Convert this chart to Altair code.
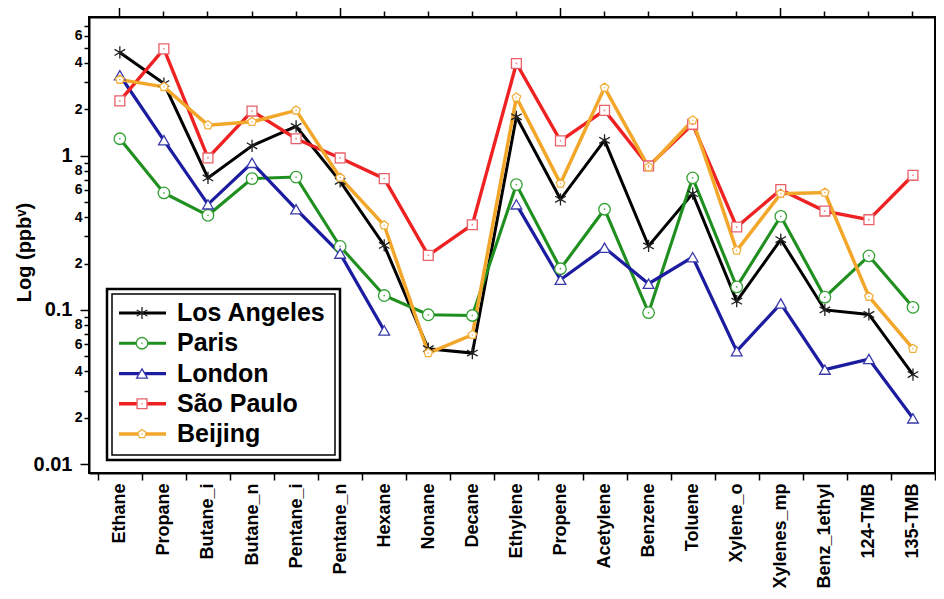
import altair as alt
import pandas as pd

compounds = ["Ethane", "Propane", "Butane_i", "Butane_n", "Pentane_i", "Pentane_n",
             "Hexane", "Nonane", "Decane", "Ethylene", "Propene", "Acetylene",
             "Benzene", "Toluene", "Xylene_o", "Xylenes_mp", "Benz_1ethyl",
             "124-TMB", "135-TMB"]
cities = ["Los Angeles", "Paris", "London", "São Paulo", "Beijing"]

los_angeles = [4.68, 2.94, 0.718, 1.16, 1.55, 0.683, 0.262, 0.056, 0.0525, 1.79,
               0.522, 1.26, 0.260, 0.568, 0.114, 0.286, 0.100, 0.0935, 0.0381]
paris = [1.29, 0.574, 0.411, 0.711, 0.728, 0.258, 0.124, 0.093, 0.092, 0.650,
         0.185, 0.45, 0.096, 0.718, 0.141, 0.405, 0.121, 0.224, 0.104]
london = [3.33, 1.26, 0.484, 0.90, 0.45, 0.232, 0.0736, None, None, 0.484,
          0.157, 0.253, 0.148, 0.220, 0.054, 0.110, 0.041, 0.048, 0.0198]
sao_paulo = [2.27, 4.94, 0.968, 1.95, 1.29, 0.968, 0.711, 0.226, 0.357, 3.97,
             1.25, 1.97, 0.859, 1.60, 0.345, 0.603, 0.438, 0.385, 0.747]
beijing = [3.12, 2.80, 1.58, 1.66, 1.97, 0.722, 0.354, 0.0525, 0.069, 2.39,
           0.660, 2.77, 0.846, 1.70, 0.243, 0.568, 0.577, 0.122, 0.056]

line_colors = ["#000000", "#1f8f1f", "#1c1ca0", "#ee2222", "#f2a72a"]
marker_colors = ["#222222", "#33a033", "#3a3aaa", "#e8606a", "#f0b040"]
line_widths = [3, 3.5, 3.5, 3.5, 2.5]
shapes = ["M0,-1L0,1M-0.866,-0.5L0.866,0.5M-0.866,0.5L0.866,-0.5",
          "circle", "triangle-up", "square",
          "M0,-1L0.951,-0.309L0.588,0.809L-0.588,0.809L-0.951,-0.309Z"]
sizes = [150, 80, 180, 90, 100]
dotted = ["Paris", "São Paulo", "Beijing"]

series = dict(zip(cities, [los_angeles, paris, london, sao_paulo, beijing]))
rows = []
for city, vals in series.items():
    seg = 0
    for comp, v in zip(compounds, vals):
        if v is None:
            seg += 1
            continue
        rows.append({"city": city, "compound": comp, "value": v, "seg": f"{city}-{seg}"})
df = pd.DataFrame(rows)
legend_df = pd.DataFrame({"city": cities})

FONT = "Liberation Sans"

xscale = alt.Scale(type="band", domain=compounds, paddingInner=0, paddingOuter=0.1, align=1)
yscale = alt.Scale(type="log", domain=[0.00875, 7.95], nice=False)

ytick_vals = [round(m * 10 ** e, 6) for e in (-2, -1, 0) for m in range(1, 10) if m * 10 ** e < 7.95]

mant = "round(datum.value / pow(10, floor(log(datum.value)/LN10 + 1e-6)))"
is_decade = "abs(log(datum.value)/LN10 - round(log(datum.value)/LN10)) < 1e-6"
label_expr = (f"{is_decade} ? (datum.value >= 0.999 ? '1' : datum.value >= 0.0999 ? '0.1' : '0.01') : "
              f"(({mant}) == 2 || ({mant}) == 4 || ({mant}) == 6 || ({mant}) == 8 ? format({mant}, 'd') : '')")

y_axis = alt.Axis(
    values=ytick_vals, labelExpr=label_expr, labelOverlap=False,
    labelFontSize={"condition": {"test": is_decade, "value": 20}, "value": 14},
    tickSize={"condition": {"test": is_decade, "value": 9}, "value": 5},
    labelPadding={"condition": {"test": is_decade, "value": 8}, "value": 2},
    labelFont=FONT, labelFontWeight="bold",
    title="Log (ppbᵛ)", titleFont=FONT, titleFontSize=20, titleFontWeight="bold",
    titleAngle=270, titleX=-65, titleY=235, titleAlign="center", titleBaseline="middle",
)

bottom_axis = alt.Axis(orient="bottom", tickBand="extent", tickSize=7, labelAngle=270,
                       labelAlign="right", labelBaseline="middle", labelPadding=3,
                       labelOverlap=False,
                       labelFont=FONT, labelFontSize=18, labelFontWeight="bold", title=None)

major = [compounds[0], compounds[5], compounds[10], compounds[15]]
major_test = "indexof(" + str(major) + ", datum.value) >= 0"
top_axis = alt.Axis(orient="top", labels=False, title=None,
                    tickSize={"condition": {"test": major_test, "value": 10}, "value": 6})

color_enc = alt.Color("city:N", scale=alt.Scale(domain=cities, range=line_colors), legend=None)
stroke_enc = alt.Stroke("city:N", scale=alt.Scale(domain=cities, range=marker_colors), legend=None)
fill_enc = alt.Fill("city:N", scale=alt.Scale(domain=cities, range=marker_colors), legend=None)
shape_enc = alt.Shape("city:N", scale=alt.Scale(domain=cities, range=shapes), legend=None)
size_enc = alt.Size("city:N", scale=alt.Scale(domain=cities, range=sizes), legend=None)
sw_enc = alt.StrokeWidth("city:N", scale=alt.Scale(domain=cities, range=line_widths), legend=None)

lines = alt.Chart(df).mark_line().encode(
    x=alt.X("compound:N", scale=xscale, sort=compounds, bandPosition=0.5, axis=bottom_axis),
    y=alt.Y("value:Q", scale=yscale, axis=y_axis),
    color=color_enc, strokeWidth=sw_enc, detail="seg:N",
)

points = alt.Chart(df).mark_point(fill="white", fillOpacity=1, strokeWidth=1.3, opacity=1).encode(
    x=alt.X("compound:N", scale=xscale, sort=compounds, bandPosition=0.5, axis=top_axis),
    y=alt.Y("value:Q", scale=yscale, axis=None),
    shape=shape_enc, size=size_enc, stroke=stroke_enc,
)

dots = alt.Chart(df).transform_filter(
    alt.FieldOneOfPredicate(field="city", oneOf=dotted)
).mark_point(filled=True, size=3, opacity=0.8).encode(
    x=alt.X("compound:N", scale=xscale, sort=compounds, bandPosition=0.5, axis=None),
    y=alt.Y("value:Q", scale=yscale, axis=None),
    fill=fill_enc,
)

one = alt.Data(values=[{}])
box_outer = alt.Chart(one).mark_rect(fill="white", stroke="black", strokeWidth=2.5).encode(
    x=alt.value(18), x2=alt.value(251), y=alt.value(272), y2=alt.value(443))
box_inner = alt.Chart(one).mark_rect(fillOpacity=0, stroke="black", strokeWidth=1.5).encode(
    x=alt.value(23), x2=alt.value(246), y=alt.value(277), y2=alt.value(438))

ly = alt.Y("city:N", sort=cities,
           scale=alt.Scale(type="point", domain=cities, range=[296, 417], padding=0), axis=None)

leg_rules = alt.Chart(legend_df).mark_rule().encode(
    x=alt.value(30), x2=alt.value(77), y=ly, color=color_enc, strokeWidth=sw_enc)
leg_points = alt.Chart(legend_df).mark_point(fill="white", fillOpacity=1, strokeWidth=1.3, opacity=1).encode(
    x=alt.value(53), y=ly, shape=shape_enc, size=size_enc, stroke=stroke_enc)
leg_dots = alt.Chart(legend_df).transform_filter(
    alt.FieldOneOfPredicate(field="city", oneOf=dotted)
).mark_point(filled=True, size=3, opacity=0.8).encode(x=alt.value(53), y=ly, fill=fill_enc)
leg_text = alt.Chart(legend_df).mark_text(
    align="left", baseline="middle", font=FONT, fontSize=25, fontWeight="bold", color="black"
).encode(x=alt.value(88), y=ly, text="city:N")

chart = alt.layer(
    lines, points, dots, box_outer, box_inner, leg_rules, leg_points, leg_dots, leg_text
).resolve_scale(y="independent").resolve_axis(x="independent").properties(
    width=846, height=456,
    autosize=alt.AutoSizeParams(type="none"),
    padding={"left": 81, "top": 9, "right": 1, "bottom": 118},
).configure_view(
    stroke="black", strokeWidth=2
).configure_axis(
    domainColor="black", domainWidth=2, tickColor="black", tickWidth=1.5,
    grid=False, labelColor="black", titleColor="black",
)

chart.save("out.html", embed_options={"renderer": "svg", "actions": False})
